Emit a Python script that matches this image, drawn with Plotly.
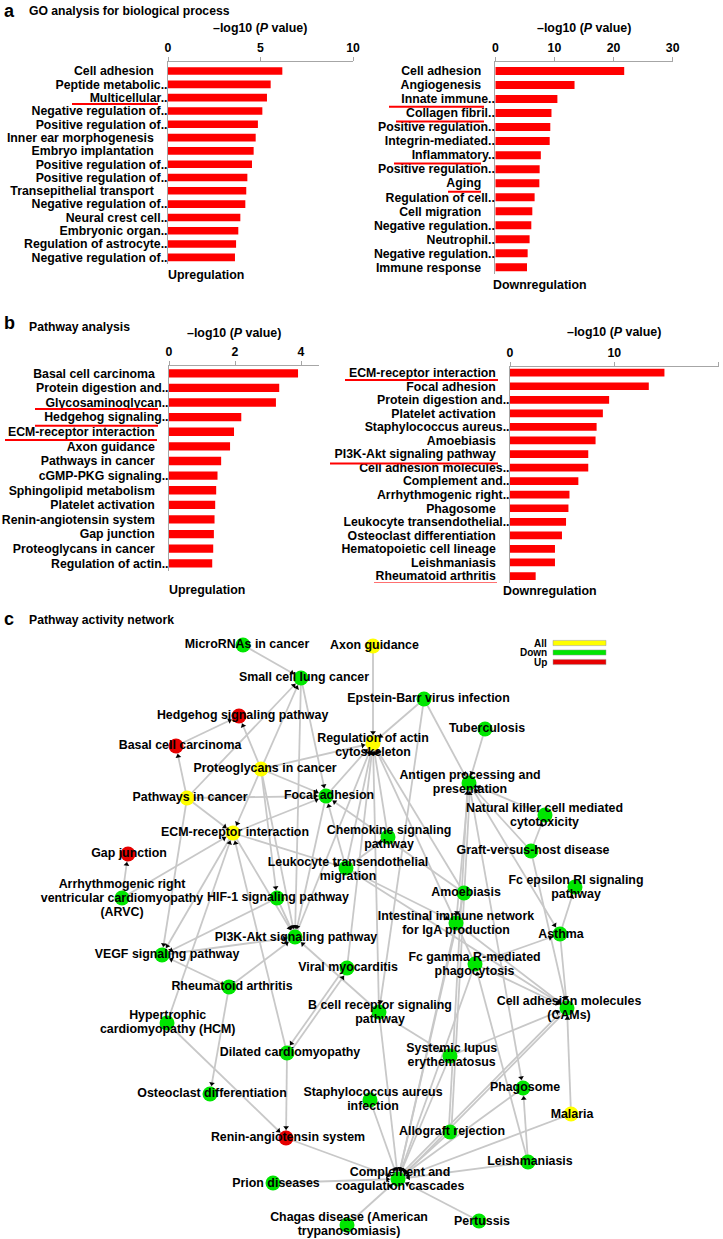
import math
import plotly.graph_objects as go

W, H = 723, 1239
FONT = "Liberation Sans, Arial, Helvetica, sans-serif"

# ---------------- Panel a: GO biological process ----------------
go_up_terms = ["Cell adhesion", "Peptide metabolic..", "Multicellular..", "Negative regulation of..",
               "Positive regulation of..", "Inner ear morphogenesis", "Embryo implantation",
               "Positive regulation of..", "Positive regulation of..", "Transepithelial transport",
               "Negative regulation of..", "Neural crest cell..", "Embryonic organ..",
               "Regulation of astrocyte..", "Negative regulation of.."]
go_up_vals = [6.18, 5.55, 5.35, 5.10, 4.86, 4.74, 4.63, 4.54, 4.29, 4.23, 4.18, 3.91, 3.80, 3.68, 3.62]

go_down_terms = ["Cell adhesion", "Angiogenesis", "Innate immune..", "Collagen fibril..",
                 "Positive regulation..", "Integrin-mediated..", "Inflammatory..",
                 "Positive regulation..", "Aging", "Regulation of cell..", "Cell migration",
                 "Negative regulation..", "Neutrophil..", "Negative regulation..", "Immune response"]
go_down_vals = [21.8, 13.4, 10.5, 9.5, 9.3, 9.2, 7.7, 7.5, 7.45, 6.65, 6.26, 6.09, 5.8, 5.47, 5.36]

# ---------------- Panel b: pathway analysis ----------------
kegg_up_terms = ["Basal cell carcinoma", "Protein digestion and..", "Glycosaminoglycan..",
                 "Hedgehog signaling..", "ECM-receptor interaction", "Axon guidance",
                 "Pathways in cancer", "cGMP-PKG signaling..", "Sphingolipid metabolism",
                 "Platelet activation", "Renin-angiotensin system", "Gap junction",
                 "Proteoglycans in cancer", "Regulation of actin.."]
kegg_up_vals = [3.91, 3.34, 3.24, 2.19, 1.97, 1.85, 1.58, 1.47, 1.43, 1.40, 1.38, 1.36, 1.34, 1.31]

kegg_down_terms = ["ECM-receptor interaction", "Focal adhesion", "Protein digestion and..",
                   "Platelet activation", "Staphylococcus aureus..", "Amoebiasis",
                   "PI3K-Akt signaling pathway", "Cell adhesion molecules..", "Complement and..",
                   "Arrhythmogenic right..", "Phagosome", "Leukocyte transendothelial..",
                   "Osteoclast differentiation", "Hematopoietic cell lineage", "Leishmaniasis",
                   "Rheumatoid arthritis"]
kegg_down_vals = [14.8, 13.3, 9.5, 8.9, 8.3, 8.2, 7.5, 7.5, 6.55, 5.7, 5.6, 5.37, 4.98, 4.31, 4.31, 2.46]

# highlighted (underlined) terms: (panel, index)
highlight_terms = [("a_up", 2), ("a_down", 2), ("a_down", 3), ("a_down", 6), ("a_down", 8),
                   ("b_up", 2), ("b_up", 3), ("b_up", 4),
                   ("b_down", 0), ("b_down", 6), ("b_down", 15)]

# ---------------- Panel c: pathway activity network ----------------
node_ids = ["MIR", "AXON", "SCLC", "EBV", "HH", "TB", "BCC", "RAC", "PROT", "AG", "PIC", "FA", "NK",
            "ECM", "CHEM", "GVHD", "GAP", "LTM", "FCE", "AMOEB", "ARVC", "HIF", "IIN", "ASTH",
            "PI3K", "VEGF", "FCG", "VMC", "RA", "CAM", "BCR", "HCM", "DCM", "SLE", "PHAG", "OC",
            "SA", "MAL", "ALLO", "RAS", "LEISH", "COMP", "PRION", "PERT", "CHAGAS"]
node_labels = [
    ["MicroRNAs in cancer"], ["Axon guidance"], ["Small cell lung cancer"],
    ["Epstein-Barr virus infection"], ["Hedgehog signaling pathway"], ["Tuberculosis"],
    ["Basal cell carcinoma"], ["Regulation of actin", "cytoskeleton"], ["Proteoglycans in cancer"],
    ["Antigen processing and", "presentation"], ["Pathways in cancer"], ["Focal adhesion"],
    ["Natural killer cell mediated", "cytotoxicity"], ["ECM-receptor interaction"],
    ["Chemokine signaling", "pathway"], ["Graft-versus-host disease"], ["Gap junction"],
    ["Leukocyte transendothelial", "migration"], ["Fc epsilon RI signaling", "pathway"],
    ["Amoebiasis"], ["Arrhythmogenic right", "ventricular cardiomyopathy", "(ARVC)"],
    ["HIF-1 signaling pathway"], ["Intestinal immune network", "for IgA production"], ["Asthma"],
    ["PI3K-Akt signaling pathway"], ["VEGF signaling pathway"],
    ["Fc gamma R-mediated", "phagocytosis"], ["Viral myocarditis"], ["Rheumatoid arthritis"],
    ["Cell adhesion molecules", "(CAMs)"], ["B cell receptor signaling", "pathway"],
    ["Hypertrophic", "cardiomyopathy (HCM)"], ["Dilated cardiomyopathy"],
    ["Systemic lupus", "erythematosus"], ["Phagosome"], ["Osteoclast differentiation"],
    ["Staphylococcus aureus", "infection"], ["Malaria"], ["Allograft rejection"],
    ["Renin-angiotensin system"], ["Leishmaniasis"], ["Complement and", "coagulation cascades"],
    ["Prion diseases"], ["Pertussis"], ["Chagas disease (American", "trypanosomiasis)"]]
node_groups = ["Down", "All", "Down", "Down", "Up", "Down", "Up", "All", "All", "Down", "All", "Down",
               "Down", "All", "Down", "Down", "Up", "Down", "Down", "Down", "Down", "Down", "Down",
               "Down", "Down", "Down", "Down", "Down", "Down", "Down", "Down", "Down", "Down", "Down",
               "Down", "Down", "Down", "All", "Down", "Up", "Down", "Down", "Down", "Down", "Down"]

# layout coordinates of the network (pixel space of the drawing)
node_x = [243, 373, 301, 424, 239, 485, 176, 373, 261, 469, 187, 326, 545, 233, 388, 531, 128, 346,
          575, 464, 122, 277, 456, 560, 295, 162, 475, 347, 229, 567, 379, 167, 287, 450, 523, 210,
          370, 571, 450, 286, 528, 398, 273, 479, 347]
node_y = [645, 646, 678, 699, 716, 729, 746, 743, 769, 783, 798, 796, 815, 833, 837, 851, 854, 868,
          887, 893, 898, 898, 923, 934, 937, 955, 964, 968, 987, 1008, 1012, 1023, 1053, 1056, 1088,
          1094, 1100, 1114, 1132, 1138, 1162, 1179, 1183, 1221, 1225]
label_x = [247, 374.5, 304, 428.5, 242.6, 487, 180, 373, 265, 470, 190, 329, 544.5, 235, 389, 533,
           129, 348, 576, 466, 122, 278, 456, 561, 296, 167, 474.5, 348, 232, 569, 380, 167.7, 290,
           451.7, 525, 212, 373, 572, 452, 288, 530, 400, 276, 482, 349]
label_y = [645, 646, 678, 699, 716, 729, 746, 746, 769, 783, 798, 796, 816, 833, 838, 851, 854, 870,
           888, 893, 898.5, 898, 924, 935, 938, 955, 965, 968, 987, 1009, 1012.5, 1023, 1053, 1056,
           1088, 1094, 1100, 1115, 1132, 1138, 1162, 1180, 1184, 1222, 1225]

edges = [
    ("MIR", "SCLC"), ("PIC", "SCLC"), ("PROT", "SCLC"), ("SCLC", "FA"), ("SCLC", "PI3K"),
    ("BCC", "HH"), ("PIC", "BCC"), ("PROT", "HH"),
    ("PIC", "FA"), ("PIC", "ECM"), ("PIC", "VEGF"),
    ("PROT", "ECM"), ("PROT", "FA"), ("PROT", "RAC"), ("PROT", "PI3K"), ("PROT", "HIF"),
    ("AXON", "RAC"), ("EBV", "RAC"), ("EBV", "AG"), ("TB", "AG"), ("EBV", "BCR"),
    ("FA", "RAC"), ("ECM", "FA"), ("FA", "PI3K"), ("ECM", "PI3K"),
    ("AMOEB", "FA"), ("LTM", "FA"), ("CHEM", "RAC"), ("LTM", "RAC"), ("LTM", "CHEM"),
    ("FCG", "RAC"), ("BCR", "RAC"), ("VMC", "RAC"), ("PI3K", "RAC"), ("AMOEB", "RAC"),
    ("ARVC", "GAP"), ("ARVC", "ECM"), ("HCM", "ECM"), ("HCM", "RAS"), ("DCM", "RAS"), ("DCM", "ECM"),
    ("VMC", "DCM"), ("DCM", "VMC"), ("RA", "OC"), ("RA", "VEGF"), ("RA", "PI3K"),
    ("HIF", "PI3K"), ("HIF", "VEGF"), ("VEGF", "PI3K"), ("ECM", "VEGF"), ("BCR", "PI3K"),
    ("ECM", "LTM"),
    ("NK", "AG"), ("GVHD", "AG"), ("GVHD", "NK"), ("ALLO", "AG"), ("AG", "PHAG"), ("AG", "IIN"),
    ("ASTH", "FCE"), ("ASTH", "CAM"), ("GVHD", "CAM"), ("AG", "ASTH"),
    ("AMOEB", "COMP"), ("IIN", "CAM"), ("IIN", "COMP"), ("LEISH", "FCG"), ("FCG", "ASTH"),
    ("FCG", "CAM"), ("BCR", "COMP"), ("SA", "COMP"), ("SLE", "COMP"), ("SLE", "CAM"),
    ("BCR", "SLE"), ("ALLO", "COMP"), ("CAM", "COMP"), ("PHAG", "COMP"), ("LEISH", "PHAG"),
    ("LEISH", "COMP"), ("MAL", "CAM"), ("MAL", "COMP"), ("PERT", "COMP"), ("CHAGAS", "COMP"),
    ("PRION", "COMP"), ("RAS", "COMP"), ("LTM", "CAM"), ("LTM", "IIN"), ("FCG", "COMP"),
]
double_edges = [("ALLO", "AG"), ("CAM", "COMP")]

legend_items = ["All", "Down", "Up"]

# ---------------- styles ----------------
BAR_RED = "#ff0000"
AX_GREY = "#a6a6a6"
GROUP_COLORS = {"All": "#ffff00", "Down": "#00e600", "Up": "#e60000"}
EDGE_GREY = "#c8c8c8"
TICK_SIZE = 12.3


def pxx(px):
    return px / W


def pxy(py):
    return 1 - py / H


fig = go.Figure()
bold = dict(family=FONT, size=TICK_SIZE, color="black", weight="bold")

# bar panels: (key, terms, vals, axis suffix, x0px, x1px, xmax, ticks, ytop_px, ybot_px, ytop_val)
panels = [
    ("a_up", go_up_terms, go_up_vals, "", 168, 353, 10, [0, 5, 10], 62, 264, -0.68),
    ("a_down", go_down_terms, go_down_vals, "2", 495.3, 672.7, 30, [0, 10, 20, 30], 62, 274.3, -0.643),
    ("b_up", kegg_up_terms, kegg_up_vals, "3", 169, 319, 4.545, [0, 2, 4], 366, 570.6, -0.5),
    ("b_down", kegg_down_terms, kegg_down_vals, "4", 510, 718.7, 20, [0, 10, 20], 366.7, 582.8, -0.443),
]
axis_keys = {}
for key, terms, vals, suf, x0, x1, xmax, tv, yt, yb, ytv in panels:
    n = len(terms)
    axis_keys[key] = suf
    fig.add_trace(go.Bar(
        x=vals, y=list(range(n)), orientation="h", marker=dict(color=BAR_RED, line=dict(width=0)),
        width=0.57, xaxis="x" + suf, yaxis="y" + suf, showlegend=False, hoverinfo="x"))
    ticktext = [t if t.endswith("..") else t + "\u00a0" * 4 for t in terms]
    fig.layout["xaxis" + suf] = dict(
        domain=[pxx(x0), pxx(x1)], range=[0, xmax], anchor="y" + suf, side="top",
        tickvals=tv, showline=True, linecolor=AX_GREY, linewidth=1, ticks="outside", ticklen=4,
        tickcolor=AX_GREY, showgrid=False, zeroline=False, tickfont=bold, automargin=False,
        fixedrange=True)
    fig.layout["yaxis" + suf] = dict(
        domain=[pxy(yb), pxy(yt)], range=[n - 0.5, ytv], anchor="x" + suf,
        tickvals=list(range(n)), ticktext=ticktext, ticks="", showline=True, linecolor=AX_GREY,
        linewidth=1, showgrid=False, zeroline=False, tickfont=bold, automargin=False,
        ticklabelstandoff=-3, fixedrange=True)

# underline geometry for highlighted terms: x-extent in px and offset below row centre
underline_geom = {("a_up", 2): (72, 158, 0.47),
                  ("a_down", 2): (389, 484, 0.55), ("a_down", 3): (396, 484, 0.6),
                  ("a_down", 6): (394, 481, 0.6), ("a_down", 8): (448, 481, 0.62),
                  ("b_up", 2): (35, 158, 0.45), ("b_up", 3): (35, 158, 0.59),
                  ("b_up", 4): (5, 157, 0.57),
                  ("b_down", 0): (345, 498, 0.54), ("b_down", 6): (330, 498, 0.69),
                  ("b_down", 15): (374, 497, 0.54)}
shapes = []
for key, idx in highlight_terms:
    x0, x1, off = underline_geom[(key, idx)]
    suf = axis_keys[key]
    shapes.append(dict(type="line", xref="paper", yref="y" + suf, x0=pxx(x0), x1=pxx(x1),
                       y0=idx + off, y1=idx + off, line=dict(color="#ff0000", width=2)))

# ---------------- network ----------------
pos = {nid: (x, y) for nid, x, y in zip(node_ids, node_x, node_y)}
R = 7.5
ex, ey = [], []
ax_, ay_, ang = [], [], []
edge_set = set(edges)


def add_line(sx, sy, tx, ty, arrow=True):
    dx, dy = tx - sx, ty - sy
    L = math.hypot(dx, dy)
    ux, uy = dx / L, dy / L
    ex.extend([sx, tx, None])
    ey.extend([sy, ty, None])
    if arrow:
        ax_.append(tx - ux * (R + 3))
        ay_.append(ty - uy * (R + 3))
        ang.append(math.degrees(math.atan2(ux, -uy)))


for s, t in edges:
    sx, sy = pos[s]
    tx, ty = pos[t]
    dx, dy = tx - sx, ty - sy
    L = math.hypot(dx, dy)
    px_, py_ = -dy / L, dx / L
    if (t, s) in edge_set:
        o = 2.0
        add_line(sx + px_ * o, sy + py_ * o, tx + px_ * o, ty + py_ * o)
    elif (s, t) in double_edges:
        for o in (-1.3, 1.3):
            add_line(sx + px_ * o, sy + py_ * o, tx + px_ * o, ty + py_ * o)
    else:
        add_line(sx, sy, tx, ty)

fig.add_trace(go.Scatter(x=ex, y=ey, mode="lines", line=dict(color=EDGE_GREY, width=1.8),
                         xaxis="x5", yaxis="y5", hoverinfo="skip", showlegend=False))
fig.add_trace(go.Scatter(x=node_x, y=node_y, mode="markers",
                         marker=dict(size=15, color=[GROUP_COLORS[g] for g in node_groups],
                                     line=dict(width=0)),
                         xaxis="x5", yaxis="y5", hovertext=[" ".join(l) for l in node_labels],
                         hoverinfo="text", showlegend=False))
fig.add_trace(go.Scatter(x=ax_, y=ay_, mode="markers",
                         marker=dict(symbol="triangle-up", size=5, color="black", angle=ang,
                                     line=dict(width=0)),
                         xaxis="x5", yaxis="y5", hoverinfo="skip", showlegend=False))
tx_, ty_, tt_ = [], [], []
LINE_H = 14
for lines, cx, cy in zip(node_labels, label_x, label_y):
    nl = len(lines)
    for k, line in enumerate(lines):
        tx_.append(cx)
        ty_.append(cy + (k - (nl - 1) / 2) * LINE_H)
        tt_.append(line)
fig.add_trace(go.Scatter(x=tx_, y=ty_, mode="text", text=tt_, textposition="middle center",
                         textfont=dict(family=FONT, size=12.4, color="black", weight="bold"),
                         xaxis="x5", yaxis="y5", hoverinfo="skip", showlegend=False))

fig.layout["xaxis5"] = dict(domain=[0, 1], range=[0, W], visible=False, fixedrange=True)
fig.layout["yaxis5"] = dict(domain=[0, pxy(600)], range=[H, 600], visible=False, fixedrange=True)

# legend for network
for i, item in enumerate(legend_items):
    yc = 643 + i * 9.5
    shapes.append(dict(type="rect", xref="paper", yref="paper", x0=pxx(553), x1=pxx(606),
                       y0=pxy(yc + 2.6), y1=pxy(yc - 2.6), fillcolor=GROUP_COLORS[item],
                       line=dict(color="#999999", width=0.5)))

annotations = []


def ann(text, x, y, size=12.4, xanchor="left", bold_=True):
    annotations.append(dict(text=text, x=pxx(x), y=pxy(y), xref="paper", yref="paper",
                            showarrow=False, xanchor=xanchor, yanchor="middle",
                            font=dict(family=FONT, size=size, color="black",
                                      weight="bold" if bold_ else "normal")))


for i, item in enumerate(legend_items):
    ann(item, 549, 643 + i * 9.5, size=10, xanchor="right")

ann("a", 2, 11, size=18)
ann("GO analysis for biological process", 27, 11, size=12.2)
ann("\u2013log10 (<i>P</i> value)", 260, 28, xanchor="center")
ann("\u2013log10 (<i>P</i> value)", 584, 28, xanchor="center")
ann("Upregulation", 166, 275)
ann("Downregulation", 491, 285)
ann("b", 2, 323, size=18)
ann("Pathway analysis", 27, 327, size=12.2)
ann("\u2013log10 (<i>P</i> value)", 234, 333, xanchor="center")
ann("\u2013log10 (<i>P</i> value)", 613.5, 332, xanchor="center")
ann("Upregulation", 167, 590)
ann("Downregulation", 501, 591)
ann("c", 2, 619, size=18)
ann("Pathway activity network", 27, 620, size=12.2)

fig.update_layout(width=W, height=H, margin=dict(l=0, r=0, t=0, b=0), template="none",
                  paper_bgcolor="white", plot_bgcolor="rgba(0,0,0,0)", showlegend=False,
                  bargap=0.4, shapes=shapes, annotations=annotations,
                  font=dict(family=FONT, color="black"))
fig.write_html("out.html", config={"displayModeBar": False},
               post_script="document.body.style.margin='0';document.body.style.overflow='hidden';")
